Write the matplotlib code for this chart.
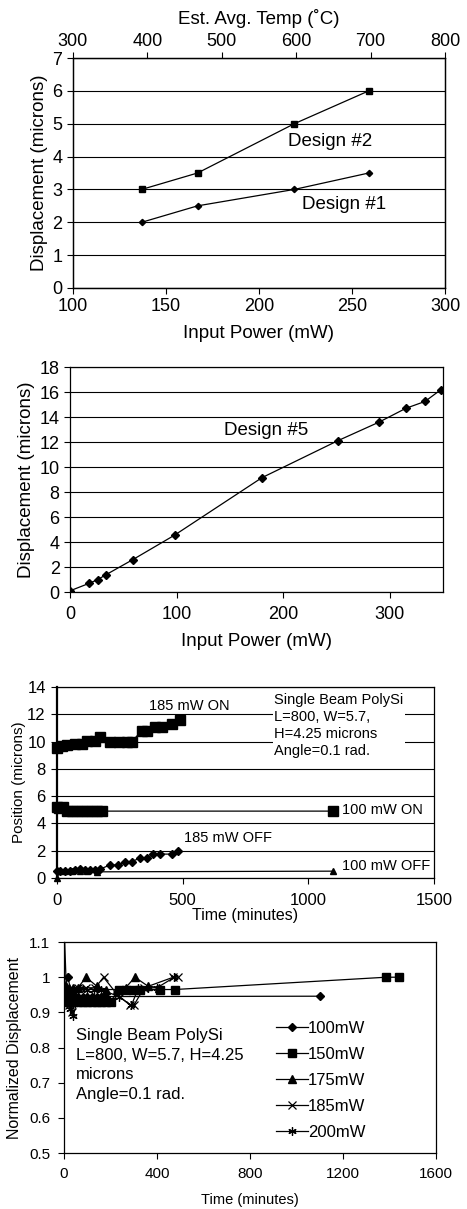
import numpy as np
import matplotlib as mpl
mpl.use('Agg')
import matplotlib.pyplot as plt
from matplotlib.ticker import FuncFormatter

plt.rcParams['font.family'] = ['Liberation Sans', 'DejaVu Sans']

# ---- panel 1: design #1 / #2 ----
p1_power = [137, 167, 219, 259]
p1_design2 = [3.0, 3.5, 5.0, 6.0]
p1_design1 = [2.0, 2.5, 3.0, 3.5]

# ---- panel 2: design #5 ----
p2_power = [0, 18, 26, 34, 59, 98, 180, 251, 290, 315, 333, 348]
p2_disp = [0.1, 0.7, 1.0, 1.4, 2.6, 4.55, 9.15, 12.1, 13.6, 14.7, 15.25, 16.2]

# ---- panel 3: position vs time ----
on185_t = [0, 20, 40, 73, 100, 120, 152, 172, 212, 245, 278, 298, 338, 358, 391, 417, 457, 488]
on185_y = [9.5, 9.7, 9.75, 9.8, 9.85, 10.05, 10.05, 10.3, 10.0, 10.0, 10.0, 10.0, 10.8, 10.8, 11.05, 11.05, 11.3, 11.6]
on100_t = [0, 10, 25, 40, 60, 80, 100, 120, 140, 160, 180, 1100]
on100_y = [5.2, 5.1, 5.2, 4.9, 4.9, 4.9, 4.9, 4.9, 4.9, 4.9, 4.9, 4.9]
off185_t = [0, 12, 32, 52, 72, 92, 111, 131, 151, 171, 211, 244, 271, 297, 330, 357, 383, 410, 456, 483]
off185_y = [0.5, 0.5, 0.5, 0.5, 0.55, 0.65, 0.6, 0.6, 0.55, 0.65, 0.95, 0.95, 1.2, 1.2, 1.45, 1.45, 1.75, 1.75, 1.75, 2.0]
off100_t = [0, 10, 30, 60, 90, 120, 160, 1100]
off100_y = [0.0, 0.5, 0.5, 0.5, 0.5, 0.5, 0.45, 0.5]

# ---- panel 4: normalized displacement ----
n100_t = [0, 17, 30, 45, 60, 80, 100, 120, 140, 160, 180, 1100]
n100_y = [0.97, 1.0, 0.96, 0.945, 0.945, 0.945, 0.945, 0.945, 0.945, 0.945, 0.945, 0.946]
n150_t = [0, 10, 20, 30, 40, 60, 80, 100, 120, 140, 160, 180, 200, 235, 265, 295, 325, 412, 476, 1385, 1441]
n150_y = [0.93, 0.95, 0.93, 0.96, 0.93, 0.93, 0.93, 0.93, 0.93, 0.93, 0.93, 0.93, 0.93,
          0.965, 0.965, 0.965, 0.965, 0.965, 0.965, 1.0, 1.0]
n175_t = [0, 10, 20, 40, 60, 95, 140, 180, 230, 265, 305, 360, 410]
n175_y = [0.97, 0.975, 0.97, 0.97, 0.97, 1.0, 0.975, 0.965, 0.965, 0.97, 1.0, 0.975, 0.97]
n185_t = [0, 20, 35, 60, 95, 135, 170, 230, 285, 300, 345, 470, 490]
n185_y = [1.0, 0.92, 0.90, 0.97, 0.97, 0.97, 1.0, 0.95, 0.92, 0.92, 0.97, 1.0, 1.0]
n200_t = [2, 10, 25, 40, 70, 100, 130, 160, 235, 290, 320, 360, 400, 475]
n200_y = [1.12, 0.97, 0.91, 0.89, 0.97, 0.965, 0.965, 0.965, 0.945, 0.92, 0.97, 0.97, 0.97, 1.0]

fig = plt.figure(figsize=(4.67, 12.09), dpi=100)


def style(ax, fs, pad=3.5):
    for s in ax.spines.values():
        s.set_linewidth(0.9)
    ax.tick_params(direction='out', length=4, width=0.8, labelsize=fs, colors='black', pad=pad)


# panel 1
ax1 = fig.add_axes([0.156, 0.7618, 0.797, 0.1902])
ax1.plot(p1_power, p1_design2, 'k-s', lw=0.9, ms=5)
ax1.plot(p1_power, p1_design1, 'k-D', lw=0.9, ms=3.2)
ax1.set_xlim(100, 300)
ax1.set_ylim(0, 7)
ax1.set_xticks(np.arange(100, 301, 50))
ax1.set_yticks(np.arange(0, 8, 1))
ax1.yaxis.grid(True, color='black', lw=0.8)
ax1.set_axisbelow(True)
ax1.set_xlabel('Input Power (mW)', fontsize=13.5, labelpad=7)
ax1.set_ylabel('Displacement (microns)', fontsize=13.5, labelpad=3)
style(ax1, 13)
ax1.text(215.5, 4.45, 'Design #2', fontsize=13.5, va='center')
ax1.text(223, 2.55, 'Design #1', fontsize=13.5, va='center')
ax1t = ax1.twiny()
ax1t.set_xlim(300, 800)
ax1t.set_xticks(np.arange(300, 801, 100))
ax1t.set_xlabel('Est. Avg. Temp (˚C)', fontsize=13.5, labelpad=6)
style(ax1t, 13, pad=2)

# panel 2
ax2 = fig.add_axes([0.150, 0.5103, 0.799, 0.1861])
ax2.plot(p2_power, p2_disp, 'k-D', lw=0.9, ms=4.5)
ax2.set_xlim(0, 350)
ax2.set_ylim(0, 18)
ax2.set_xticks([0, 100, 200, 300])
ax2.set_yticks(np.arange(0, 19, 2))
ax2.yaxis.grid(True, color='black', lw=0.8)
ax2.set_axisbelow(True)
ax2.set_xlabel('Input Power (mW)', fontsize=13.5, labelpad=7)
ax2.set_ylabel('Displacement (microns)', fontsize=13.5, labelpad=3)
ax2.text(144, 12.9, 'Design #5', fontsize=13.5, va='center')
style(ax2, 13)
ax2.tick_params(axis='x', pad=6)

# panel 3
ax3 = fig.add_axes([0.122, 0.2738, 0.807, 0.158])
ax3.plot(on185_t, on185_y, 'k-s', lw=0.9, ms=6.5, clip_on=False)
ax3.plot(on100_t, on100_y, 'k-s', lw=0.9, ms=6.5, clip_on=False)
ax3.plot(off100_t, off100_y, 'k-^', lw=0.9, ms=5, clip_on=False)
ax3.plot(off185_t, off185_y, 'k-D', lw=0.9, ms=3.8, clip_on=False)
ax3.set_xlim(0, 1500)
ax3.set_ylim(0, 14)
ax3.set_xticks([0, 500, 1000, 1500])
ax3.set_yticks(np.arange(0, 15, 2))
ax3.yaxis.grid(True, color='black', lw=0.8)
ax3.set_axisbelow(True)
ax3.set_xlabel('Time (minutes)', fontsize=11.5, labelpad=0)
ax3.set_ylabel('Position (microns)', fontsize=11, labelpad=1)
style(ax3, 12, pad=4)
ax3.tick_params(axis='x', pad=7)
ax3.spines['left'].set_linewidth(1.6)
ax3.text(366, 12.6, '185 mW ON', fontsize=10.5, va='center')
ax3.text(504, 2.9, '185 mW OFF', fontsize=10.5, va='center')
ax3.text(1135, 5.0, '100 mW ON', fontsize=10.5, va='center',
         bbox=dict(facecolor='white', edgecolor='none', pad=0.5))
ax3.text(1135, 0.85, '100 mW OFF', fontsize=10.5, va='center')
ax3.text(864, 13.55, 'Single Beam PolySi\nL=800, W=5.7,\nH=4.25 microns\nAngle=0.1 rad.',
         fontsize=10.5, va='top', linespacing=1.28,
         bbox=dict(facecolor='white', edgecolor='none', pad=1))

# panel 4
ax4 = fig.add_axes([0.137, 0.0463, 0.797, 0.1745])
ax4.plot(n100_t, n100_y, 'k-D', lw=0.9, ms=4, label='100mW')
ax4.plot(n150_t, n150_y, 'k-s', lw=0.9, ms=6, label='150mW')
ax4.plot(n175_t, n175_y, 'k-^', lw=0.9, ms=6, label='175mW')
ax4.plot(n185_t, n185_y, 'k-x', lw=0.9, ms=6, mew=0.9, label='185mW')
ax4.plot(n200_t, n200_y, 'k-', marker=(6, 2, 0), lw=0.9, ms=6, mew=0.9, label='200mW')
ax4.set_xlim(0, 1600)
ax4.set_ylim(0.5, 1.1)
ax4.set_xticks([0, 400, 800, 1200, 1600])
ax4.set_yticks(np.arange(0.5, 1.11, 0.1))
ax4.yaxis.set_major_formatter(FuncFormatter(lambda v, p: '%g' % round(v, 1)))
ax4.set_xlabel('Time (minutes)', fontsize=10.5, labelpad=9)
ax4.set_ylabel('Normalized Displacement', fontsize=11.5, labelpad=5)
style(ax4, 11, pad=6)
ax4.text(50, 0.855, 'Single Beam PolySi\nL=800, W=5.7, H=4.25\nmicrons\nAngle=0.1 rad.',
         fontsize=12, va='top', linespacing=1.38)
ax4.legend(loc='upper left', bbox_to_anchor=(0.57, 0.625), frameon=False, fontsize=12,
           handlelength=1.9, handletextpad=0.0, labelspacing=0.65, borderpad=0, borderaxespad=0)

plt.savefig('out.png', dpi=100)
